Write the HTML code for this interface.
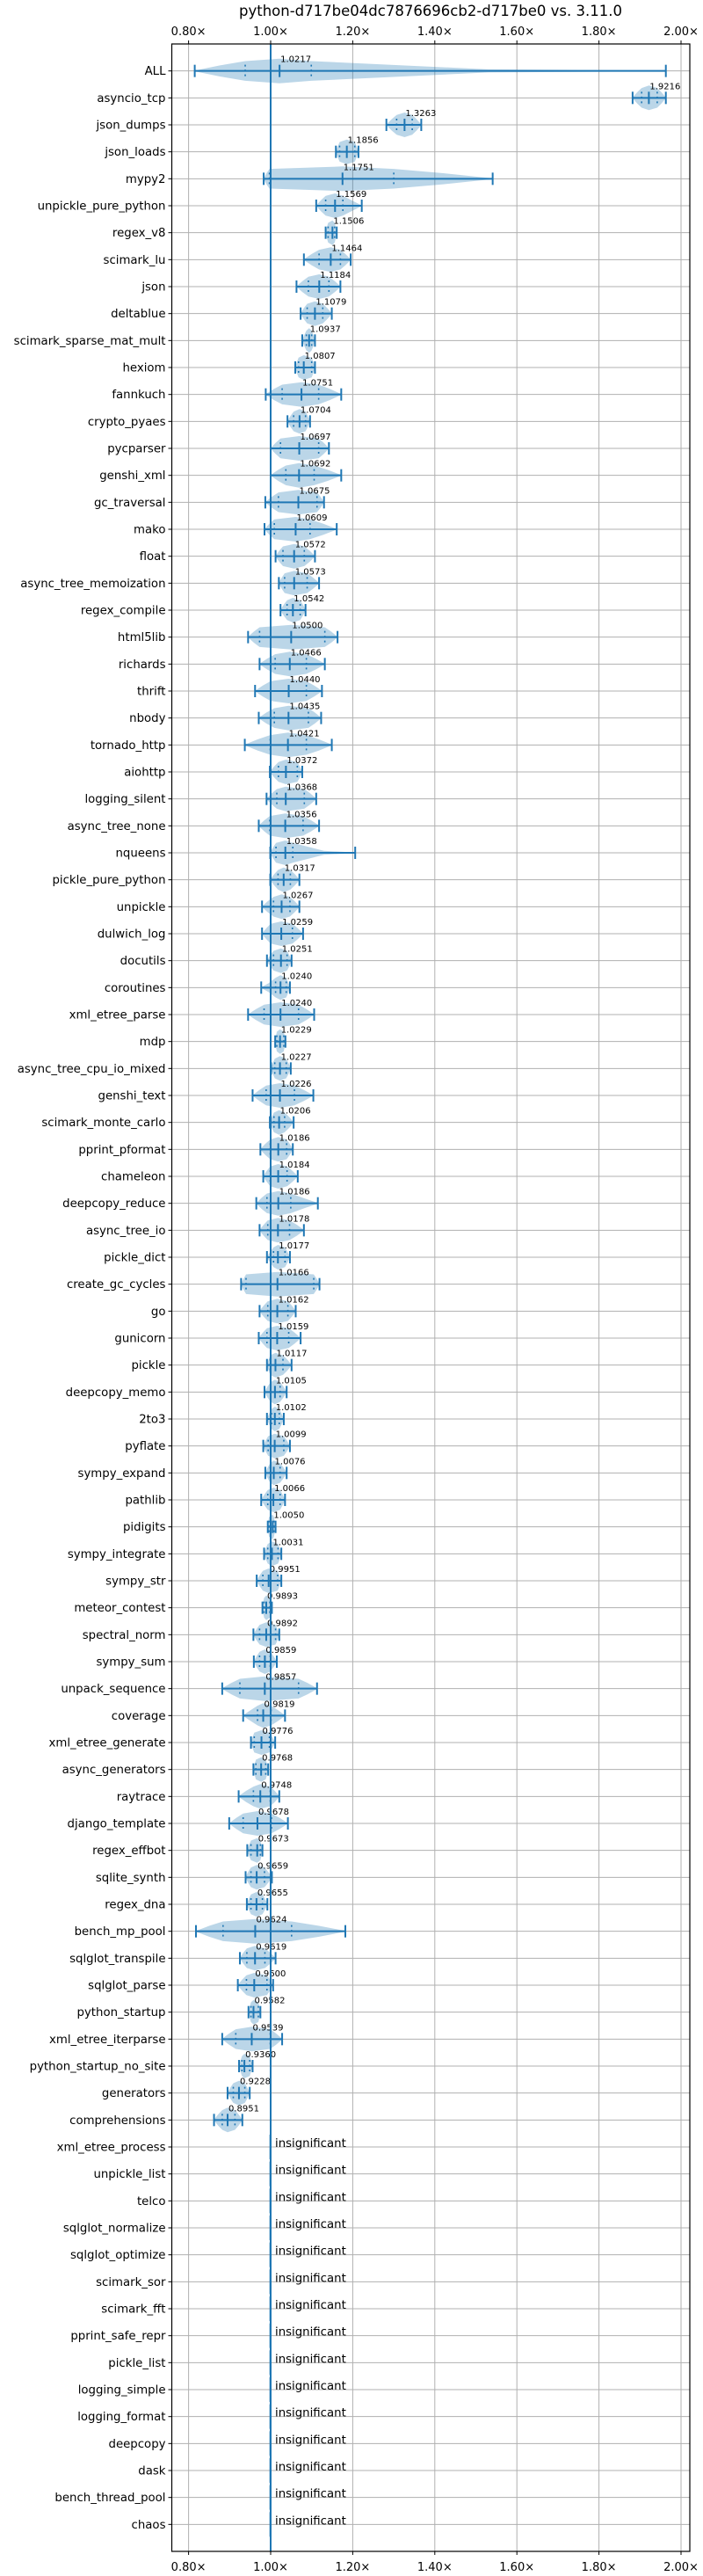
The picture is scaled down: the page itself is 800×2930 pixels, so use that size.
<!DOCTYPE html>
<html><head><meta charset="utf-8">
<style>
html,body{margin:0;padding:0;background:#fff;}
svg{display:block;font-family:"DejaVu Sans","Liberation Sans",sans-serif;}
</style></head>
<body>
<svg id="chart" width="800" height="2930" viewBox="0 0 800 2930" xmlns="http://www.w3.org/2000/svg">
<text x="490" y="18" font-size="16.5" text-anchor="middle" fill="#000">python-d717be04dc7876696cb2-d717be0 vs. 3.11.0</text>
<g id="grid"></g>
<g id="marks"></g>
<g id="axes"></g>
</svg>
<script>
const categories = ["ALL","asyncio_tcp","json_dumps","json_loads","mypy2","unpickle_pure_python","regex_v8","scimark_lu","json","deltablue","scimark_sparse_mat_mult","hexiom","fannkuch","crypto_pyaes","pycparser","genshi_xml","gc_traversal","mako","float","async_tree_memoization","regex_compile","html5lib","richards","thrift","nbody","tornado_http","aiohttp","logging_silent","async_tree_none","nqueens","pickle_pure_python","unpickle","dulwich_log","docutils","coroutines","xml_etree_parse","mdp","async_tree_cpu_io_mixed","genshi_text","scimark_monte_carlo","pprint_pformat","chameleon","deepcopy_reduce","async_tree_io","pickle_dict","create_gc_cycles","go","gunicorn","pickle","deepcopy_memo","2to3","pyflate","sympy_expand","pathlib","pidigits","sympy_integrate","sympy_str","meteor_contest","spectral_norm","sympy_sum","unpack_sequence","coverage","xml_etree_generate","async_generators","raytrace","django_template","regex_effbot","sqlite_synth","regex_dna","bench_mp_pool","sqlglot_transpile","sqlglot_parse","python_startup","xml_etree_iterparse","python_startup_no_site","generators","comprehensions","xml_etree_process","unpickle_list","telco","sqlglot_normalize","sqlglot_optimize","scimark_sor","scimark_fft","pprint_safe_repr","pickle_list","logging_simple","logging_format","deepcopy","dask","bench_thread_pool","chaos"];
const medians = [1.0217,1.9216,1.3263,1.1856,1.1751,1.1569,1.1506,1.1464,1.1184,1.1079,1.0937,1.0807,1.0751,1.0704,1.0697,1.0692,1.0675,1.0609,1.0572,1.0573,1.0542,1.0500,1.0466,1.0440,1.0435,1.0421,1.0372,1.0368,1.0356,1.0358,1.0317,1.0267,1.0259,1.0251,1.0240,1.0240,1.0229,1.0227,1.0226,1.0206,1.0186,1.0184,1.0186,1.0178,1.0177,1.0166,1.0162,1.0159,1.0117,1.0105,1.0102,1.0099,1.0076,1.0066,1.0050,1.0031,0.9951,0.9893,0.9892,0.9859,0.9857,0.9819,0.9776,0.9768,0.9748,0.9678,0.9673,0.9659,0.9655,0.9624,0.9619,0.9600,0.9582,0.9539,0.9360,0.9228,0.8951];
const mins = [0.815,1.882,1.282,1.159,0.983,1.111,1.134,1.081,1.063,1.073,1.077,1.060,0.988,1.041,1.000,1.000,0.987,0.985,1.012,1.020,1.024,0.945,0.973,0.962,0.971,0.937,0.998,0.990,0.971,0.999,0.999,0.979,0.979,0.991,0.977,0.945,1.011,1.001,0.956,0.998,0.975,0.982,0.965,0.973,0.991,0.928,0.973,0.971,0.991,0.985,0.991,0.982,0.987,0.977,0.993,0.984,0.966,0.980,0.958,0.959,0.882,0.933,0.952,0.958,0.922,0.899,0.943,0.939,0.942,0.818,0.925,0.920,0.946,0.882,0.923,0.895,0.862];
const maxs = [1.963,1.963,1.367,1.214,1.541,1.222,1.161,1.195,1.170,1.149,1.108,1.108,1.172,1.096,1.142,1.172,1.130,1.161,1.108,1.118,1.085,1.163,1.132,1.125,1.123,1.149,1.077,1.111,1.118,1.206,1.070,1.070,1.079,1.051,1.047,1.106,1.036,1.049,1.104,1.056,1.054,1.066,1.115,1.081,1.047,1.119,1.061,1.073,1.051,1.039,1.032,1.047,1.039,1.035,1.012,1.026,1.026,1.003,1.021,1.015,1.113,1.035,1.011,0.994,1.021,1.042,0.980,1.003,0.992,1.182,1.012,1.006,0.975,1.028,0.956,0.949,0.931];
const q1s = [0.938,1.904,1.307,1.168,0.997,1.134,1.140,1.118,1.092,1.089,1.087,1.068,1.028,1.056,1.024,1.037,1.019,1.009,1.030,1.034,1.040,0.973,1.011,1.000,1.009,0.999,1.019,1.015,0.998,1.013,1.018,1.007,1.000,1.007,1.012,0.984,1.015,1.010,0.989,1.008,0.999,0.999,0.991,0.993,1.007,0.940,0.993,0.991,0.999,1.000,1.002,0.994,0.999,0.993,0.996,0.993,0.981,0.984,0.973,0.973,0.925,0.968,0.960,0.964,0.958,0.933,0.952,0.952,0.952,0.884,0.942,0.941,0.952,0.915,0.930,0.909,0.882];
const q3s = [1.099,1.942,1.345,1.205,1.300,1.176,1.156,1.170,1.142,1.127,1.100,1.100,1.117,1.085,1.117,1.106,1.113,1.096,1.082,1.089,1.072,1.132,1.087,1.087,1.092,1.087,1.065,1.082,1.079,1.054,1.048,1.047,1.053,1.040,1.038,1.068,1.032,1.038,1.058,1.034,1.039,1.040,1.049,1.046,1.035,1.105,1.042,1.044,1.030,1.023,1.021,1.032,1.023,1.023,1.008,1.018,1.017,0.998,1.012,0.999,1.068,1.001,0.997,0.988,0.999,1.002,0.975,0.985,0.980,1.051,0.986,0.991,0.970,0.999,0.949,0.937,0.913];
const tickValues = [0.8,1.0,1.2,1.4,1.6,1.8,2.0];
const tickLabels = ["0.80×","1.00×","1.20×","1.40×","1.60×","1.80×","2.00×"];

const NS = "http://www.w3.org/2000/svg";
const L = 195.5, R = 785, T = 50, B = 2902;
const rowH = (B - T) / (categories.length + 1);
function xs(v){ return 308 + (v - 1) * 467; }
function ys(i){ return T + rowH * (i + 1); }
function mk(parent, tag, attrs){ const e = document.createElementNS(NS, tag); for (const k in attrs) e.setAttribute(k, attrs[k]); parent.appendChild(e); return e; }

const grid = document.getElementById('grid');
const marks = document.getElementById('marks');
const axes = document.getElementById('axes');

tickValues.forEach((v, k) => {
  const x = xs(v);
  const g = mk(grid, 'line', {x1:x, x2:x, y1:T, y2:B, stroke:'#b0b0b0', 'stroke-width':1});
  
  
  [[T, T-4, T-10], [B, B+4, B+22]].forEach(([a, b, ty]) => {
    const t = mk(axes, 'line', {x1:x, x2:x, y1:a, y2:b, stroke:'#000', 'stroke-width':1});
    
    
    const lb = mk(axes, 'text', {x:x, y:ty, 'font-size':13, 'text-anchor':'middle', fill:'#000'});
    lb.textContent = tickLabels[k];
    
    
  });
});
categories.forEach((c, i) => {
  const y = ys(i);
  const g = mk(grid, 'line', {x1:L, x2:R, y1:y, y2:y, stroke:'#b0b0b0', 'stroke-width':1});
  
  
  const t = mk(axes, 'line', {x1:L-4, x2:L, y1:y, y2:y, stroke:'#000', 'stroke-width':1});
  
  
  const lb = mk(axes, 'text', {x:L-7, y:y+4.5, 'font-size':13.3, 'text-anchor':'end', fill:'#000'});
  lb.textContent = c;
  
  
});

const H = 14;
function violinPath(i){
  const y = ys(i);
  const iqr = Math.max(q3s[i] - q1s[i], 0.001);
  const lt = Math.min(1, iqr / Math.max(q1s[i] - mins[i], 0.001));
  const rt = Math.min(1, iqr / Math.max(maxs[i] - q3s[i], 0.001));
  const pts = [[mins[i],0.03],[q1s[i]-(q1s[i]-mins[i])*0.5,0.4*lt+0.05],[q1s[i],0.8],[medians[i],1],[q3s[i],0.8],[q3s[i]+(maxs[i]-q3s[i])*0.5,0.4*rt+0.05],[maxs[i],0.03]];
  let top = '', bot = '';
  pts.forEach((p, k) => { top += (k ? ' L' : 'M') + xs(p[0]).toFixed(1) + ',' + (y - p[1]*H).toFixed(1); });
  for (let k = pts.length - 1; k >= 0; k--) bot += ' L' + xs(pts[k][0]).toFixed(1) + ',' + (y + pts[k][1]*H).toFixed(1);
  return top + bot + ' Z';
}
medians.forEach((m, i) => {
  const y = ys(i);
  const v = mk(marks, 'path', {d:violinPath(i), fill:'#1f77b4', 'fill-opacity':0.3, stroke:'none', 'stroke-linejoin':'round'});
  
  
  const bar = mk(marks, 'line', {x1:xs(mins[i]), x2:xs(maxs[i]), y1:y, y2:y, stroke:'#1f77b4', 'stroke-width':2});
  
  
  [mins[i], maxs[i], m].forEach(val => {
    const c = mk(marks, 'line', {x1:xs(val), x2:xs(val), y1:y-7, y2:y+7, stroke:'#1f77b4', 'stroke-width':2});
    
    
  });
  [q1s[i], q3s[i]].forEach(val => {
    const q = mk(marks, 'line', {x1:xs(val), x2:xs(val), y1:y-7, y2:y+7, stroke:'#1f77b4', 'stroke-width':1.6, 'stroke-dasharray':'2,3.5'});
    
    
  });
  const lb = mk(marks, 'text', {x:xs(m)+1, y:y-10, 'font-size':10, fill:'#000'});
  lb.textContent = m.toFixed(4);
  
  
});
for (let i = medians.length; i < categories.length; i++) {
  const y = ys(i);
  const s = mk(marks, 'line', {x1:xs(1)-1, x2:xs(1)-1, y1:y-14, y2:y+14, stroke:'#1f77b4', 'stroke-opacity':0.3, 'stroke-width':2});
  
  
  const t = mk(marks, 'text', {x:xs(1)+5, y:y, 'font-size':13.3, fill:'#000'});
  t.textContent = 'insignificant';
  
  
}
const base = mk(marks, 'line', {x1:xs(1), x2:xs(1), y1:T, y2:B, stroke:'#1f77b4', 'stroke-width':2});


const fr = mk(axes, 'rect', {x:L, y:T, width:R-L, height:B-T, fill:'none', stroke:'#000', 'stroke-width':1.2});


</script>
</body></html>
